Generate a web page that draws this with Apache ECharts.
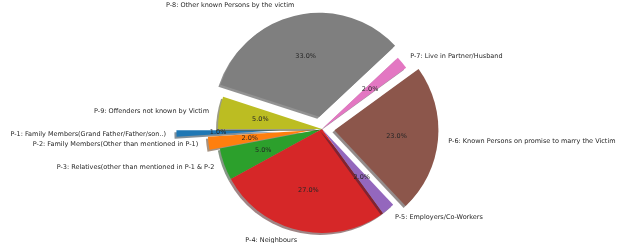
<!DOCTYPE html>
<html>
<head>
<meta charset="utf-8">
<script src="https://cdn.jsdelivr.net/npm/echarts@6/dist/echarts.min.js"></script>
<style>
html, body { margin: 0; padding: 0; background: #fff; }
#chart { width: 619px; height: 243px; }
</style>
</head>
<body>
<div id="chart"></div>
<script>
var categories = [
    'P-1: Family Members(Grand Father/Father/son..)',
    'P-2: Family Members(Other than mentioned in P-1)',
    'P-3: Relatives(other than mentioned in P-1 & P-2',
    'P-4: Neighbours',
    'P-5: Employers/Co-Workers',
    'P-6: Known Persons on promise to marry the Victim',
    'P-7: Live in Partner/Husband',
    'P-8: Other known Persons by the victim',
    'P-9: Offenders not known by Victim'
];
var shares = [1, 2, 5, 27, 2, 23, 2, 33, 5];
var explode = [0.4, 0.1, 0, 0, 0, 0.12, 0, 0.12, 0];
var colors = ['#1f77b4', '#ff7f0e', '#2ca02c', '#d62728', '#9467bd',
              '#8c564b', '#e377c2', '#7f7f7f', '#bcbd22'];

var cx = 322, cy = 129, radius = 104;
var font = 'DejaVu Sans';

function shadowOf(hex) {
    var n = parseInt(hex.slice(1), 16);
    var r = Math.round(((n >> 16) & 255) * 0.3);
    var g = Math.round(((n >> 8) & 255) * 0.3);
    var b = Math.round((n & 255) * 0.3);
    return 'rgba(' + r + ',' + g + ',' + b + ',0.5)';
}

var total = shares.reduce(function (a, b) { return a + b; }, 0);
var series = [];
var acc = 0;

categories.forEach(function (name, i) {
    var mid = (180 + (acc + shares[i] / 2) / total * 360) * Math.PI / 180;
    acc += shares[i];
    var off = explode[i] * radius;
    var center = [cx + off * Math.cos(mid), cy - off * Math.sin(mid)];

    var base = {
        type: 'pie',
        center: center,
        startAngle: 180,
        clockwise: false,
        avoidLabelOverlap: false,
        silent: true,
        animation: false,
        emphasis: { disabled: true }
    };

    // the wedge itself plus its name label
    series.push(Object.assign({}, base, {
        z: 2,
        radius: [0, radius],
        labelLine: { show: false, length: radius * 0.1, length2: 0 },
        label: {
            position: 'outside',
            distanceToLabelLine: 0,
            fontFamily: font,
            fontSize: 6.5,
            color: '#262626'
        },
        data: shares.map(function (v, j) {
            var mine = j === i;
            return {
                name: categories[j],
                value: v,
                label: { show: mine },
                itemStyle: mine ? {
                    color: colors[j],
                    borderWidth: 0,
                    shadowBlur: 0,
                    shadowOffsetX: -2,
                    shadowOffsetY: 2,
                    shadowColor: shadowOf(colors[j])
                } : { color: 'rgba(0,0,0,0)', borderWidth: 0 }
            };
        })
    }));

    // percentage text at 0.6 radius
    series.push(Object.assign({}, base, {
        z: 3,
        radius: [0, radius * 1.2 - 6],
        labelLine: { show: false },
        label: {
            position: 'inside',
            fontFamily: font,
            fontSize: 6.5,
            color: '#262626',
            formatter: function (p) { return p.percent.toFixed(1) + '%'; }
        },
        data: shares.map(function (v, j) {
            return {
                name: categories[j],
                value: v,
                label: { show: j === i },
                itemStyle: { color: 'rgba(0,0,0,0)', borderWidth: 0 }
            };
        })
    }));
});

var chart = echarts.init(document.getElementById('chart'));
chart.setOption({
    backgroundColor: '#fff',
    series: series
});
</script>
</body>
</html>
